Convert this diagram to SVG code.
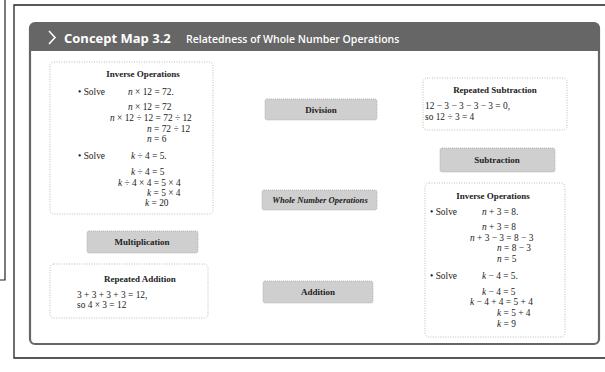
<svg xmlns="http://www.w3.org/2000/svg" width="605" height="372" viewBox="0 0 605 372">
<style>
.t{font-family:"Liberation Serif","Times New Roman",serif;font-size:9.4px;fill:#222}
.b{font-family:"Liberation Serif","Times New Roman",serif;font-size:9px;font-weight:bold;fill:#222}
.bi{font-family:"Liberation Serif","Times New Roman",serif;font-size:8.6px;font-weight:bold;font-style:italic;fill:#222}
.box{fill:#fff;stroke:#aaa;stroke-width:0.8;stroke-dasharray:1 1.5}
.nd{fill:#cfcfcf;stroke:#aaa;stroke-width:0.8;stroke-dasharray:1 1}
.h{font-family:"Open Sans","Liberation Sans",sans-serif;fill:#fff}
</style>
<rect width="605" height="372" fill="#fff"/>
<path d="M0 280 H5 V0" fill="none" stroke="#222" stroke-width="1.2"/>
<path d="M605 5 H14 V358 H605" fill="none" stroke="#222" stroke-width="1.3"/>
<rect x="30" y="23" width="569" height="321" rx="5" fill="#fff" stroke="#666" stroke-width="2.2"/>
<path d="M35 23 H594 A5 5 0 0 1 599 28 V51 H30 V28 A5 5 0 0 1 35 23 Z" fill="#666"/>
<path d="M49 31 L55 37.5 L49 44" fill="none" stroke="#fff" stroke-width="1.6"/>
<text x="64" y="43" class="h" font-size="13" font-weight="bold">Concept Map  3.2</text>
<text x="186" y="43" class="h" font-size="10.5" font-weight="600" fill="#eee">Relatedness of Whole Number Operations</text>
<g id="connectors"></g>
<g id="inverse-left">
<rect x="50" y="62" width="163" height="152" rx="4" class="box"/>
<text x="143" y="77" class="b" text-anchor="middle">Inverse Operations</text>
<text x="78" y="95" class="t">• Solve</text>
<text x="128" y="95" class="t"><tspan font-style="italic">n</tspan> × 12 = 72.</text>
<text x="128" y="110" class="t"><tspan font-style="italic">n</tspan> × 12 = 72</text>
<text x="110" y="121" class="t"><tspan font-style="italic">n</tspan> × 12 ÷ 12 = 72 ÷ 12</text>
<text x="147" y="132" class="t"><tspan font-style="italic">n</tspan> = 72 ÷ 12</text>
<text x="147" y="142" class="t"><tspan font-style="italic">n</tspan> = 6</text>
<text x="78" y="159" class="t">• Solve</text>
<text x="131" y="159" class="t"><tspan font-style="italic">k</tspan> ÷ 4 = 5.</text>
<text x="131" y="175" class="t"><tspan font-style="italic">k</tspan> ÷ 4 = 5</text>
<text x="118" y="186" class="t"><tspan font-style="italic">k</tspan> ÷ 4 × 4 = 5 × 4</text>
<text x="147" y="196" class="t"><tspan font-style="italic">k</tspan> = 5 × 4</text>
<text x="145" y="206" class="t"><tspan font-style="italic">k</tspan> = 20</text>
</g>
<g id="multiplication">
<rect x="87" y="231" width="111" height="22" rx="2" class="nd"/>
<text x="142" y="245" class="b" text-anchor="middle">Multiplication</text>
</g>
<g id="repeated-addition">
<rect x="50" y="264" width="158" height="54" rx="4" class="box"/>
<text x="140" y="282" class="b" text-anchor="middle">Repeated Addition</text>
<text x="77" y="298" class="t">3 + 3 + 3 + 3 = 12,</text>
<text x="77" y="308" class="t">so 4 × 3 = 12</text>
</g>
<g id="division">
<rect x="265" y="99" width="112" height="21" rx="2" class="nd"/>
<text x="321" y="113" class="b" text-anchor="middle">Division</text>
</g>
<g id="whole-number-operations">
<rect x="262" y="190" width="115" height="20" rx="2" class="nd"/>
<text x="320" y="203" class="bi" text-anchor="middle">Whole Number Operations</text>
</g>
<g id="addition">
<rect x="263" y="281" width="110" height="22" rx="2" class="nd"/>
<text x="318" y="295" class="b" text-anchor="middle">Addition</text>
</g>
<g id="repeated-subtraction">
<rect x="423" y="78" width="144" height="52" rx="4" class="box"/>
<text x="495" y="93" class="b" text-anchor="middle">Repeated Subtraction</text>
<text x="425" y="109" class="t">12 − 3 − 3 − 3 − 3 = 0,</text>
<text x="425" y="120" class="t">so 12 ÷ 3 = 4</text>
</g>
<g id="subtraction">
<rect x="440" y="148" width="115" height="24" rx="2" class="nd"/>
<text x="497" y="163" class="b" text-anchor="middle">Subtraction</text>
</g>
<g id="inverse-right">
<rect x="425" y="183" width="140" height="154" rx="4" class="box"/>
<text x="493" y="199" class="b" text-anchor="middle">Inverse Operations</text>
<text x="430" y="215" class="t">• Solve</text>
<text x="482" y="215" class="t"><tspan font-style="italic">n</tspan> + 3 = 8.</text>
<text x="482" y="230" class="t"><tspan font-style="italic">n</tspan> + 3 = 8</text>
<text x="470" y="241" class="t"><tspan font-style="italic">n</tspan> + 3 − 3 = 8 − 3</text>
<text x="497" y="251" class="t"><tspan font-style="italic">n</tspan> = 8 − 3</text>
<text x="497" y="262" class="t"><tspan font-style="italic">n</tspan> = 5</text>
<text x="430" y="279" class="t">• Solve</text>
<text x="482" y="279" class="t"><tspan font-style="italic">k</tspan> − 4 = 5.</text>
<text x="482" y="295" class="t"><tspan font-style="italic">k</tspan> − 4 = 5</text>
<text x="470" y="305" class="t"><tspan font-style="italic">k</tspan> − 4 + 4 = 5 + 4</text>
<text x="497" y="316" class="t"><tspan font-style="italic">k</tspan> = 5 + 4</text>
<text x="497" y="327" class="t"><tspan font-style="italic">k</tspan> = 9</text>
</g>
</svg>
